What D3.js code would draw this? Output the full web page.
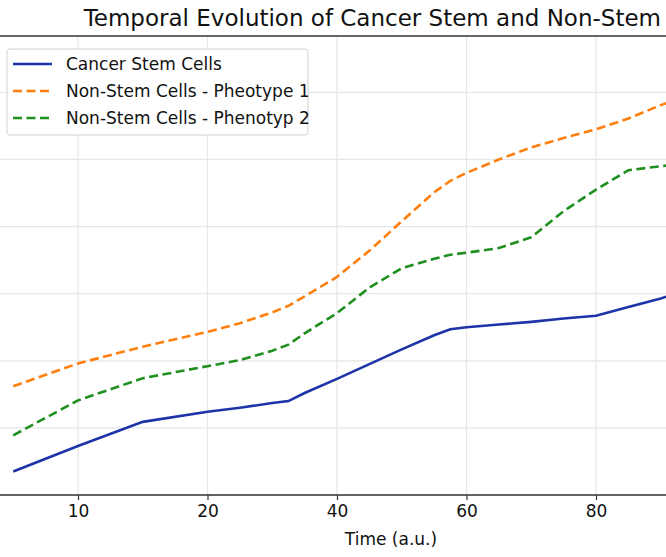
<!DOCTYPE html>
<html>
<head>
<meta charset="utf-8">
<script src="https://cdn.jsdelivr.net/npm/d3@7"></script>
<style>
  body { margin: 0; background: #fff; }
  text { font-family: "DejaVu Sans", sans-serif; }
</style>
</head>
<body>
<script>
// data (y in arbitrary units, no y labels shown)
const times = [5, 10, 15, 20, 25, 30, 32.5, 35, 40, 45, 50, 55, 57.5, 60, 65, 70, 75, 80, 85, 90, 91];
const stemCells = [3.5, 7.3, 10.9, 12.4, 13.0, 13.7, 14.0, 15.2, 17.3, 19.5, 21.7, 23.8, 24.7, 25.0, 25.4, 25.8, 26.3, 26.7, 28.0, 29.3, 29.6];
const nonStem1 = [16.2, 19.6, 22.1, 24.3, 25.6, 27.2, 28.2, 29.6, 32.5, 36.4, 40.8, 45.1, 46.8, 48.0, 50.0, 51.8, 53.2, 54.5, 56.1, 58.1, 58.4];
const nonStem2 = [8.9, 14.1, 17.4, 19.2, 20.1, 21.5, 22.4, 24.1, 27.1, 30.9, 33.8, 35.2, 35.8, 36.1, 36.8, 38.4, 42.3, 45.5, 48.4, 49.0, 49.1];
const xTicks = [10, 20, 40, 60, 80];
const yGrid = [0, 10, 20, 30, 40, 50, 60];
const seriesNames = ["Cancer Stem Cells", "Non-Stem Cells - Pheotype 1", "Non-Stem Cells - Phenotyp 2"];

const width = 666;
const height = 557;
const plotTop = 36, plotBottom = 495;
const tickStart = 78, tickStep = 129.5;

const svg = d3.select('body').append('svg')
  .attr('width', width)
  .attr('height', height);

// tick labels are evenly spaced in the picture, so the scale is piecewise
const x = d3.scaleLinear()
  .domain(xTicks)
  .range(xTicks.map((d, i) => tickStart + i * tickStep));

const y = d3.scaleLinear()
  .domain([0, 68.4])
  .range([plotBottom, plotTop]);

// grid
const grid = svg.append('g').attr('stroke', '#e6e6e6').attr('stroke-width', 1.2);
grid.selectAll('line.v').data(xTicks).join('line')
  .attr('class', 'v')
  .attr('x1', (d) => x(d)).attr('x2', (d) => x(d))
  .attr('y1', plotTop).attr('y2', plotBottom);
grid.selectAll('line.h').data(yGrid).join('line')
  .attr('class', 'h')
  .attr('x1', 0).attr('x2', width)
  .attr('y1', (d) => y(d)).attr('y2', (d) => y(d));

// lines
const series = [
  { name: seriesNames[0], values: stemCells, color: '#1c34a8', dash: null },
  { name: seriesNames[1], values: nonStem1, color: '#ff7f0e', dash: '9,4.5' },
  { name: seriesNames[2], values: nonStem2, color: '#1f8f1f', dash: '9,4.5' }
];

const line = d3.line()
  .x((d) => x(d[0]))
  .y((d) => y(d[1]));

svg.append('g').selectAll('path')
  .data(series)
  .join('path')
  .attr('fill', 'none')
  .attr('stroke', (d) => d.color)
  .attr('stroke-width', 2.6)
  .attr('stroke-dasharray', (d) => d.dash)
  .attr('d', (d) => line(times.map((t, i) => [t, d.values[i]])));

// spines
svg.append('line')
  .attr('x1', 0).attr('x2', width)
  .attr('y1', plotTop).attr('y2', plotTop)
  .attr('stroke', '#333').attr('stroke-width', 1.3);
svg.append('line')
  .attr('x1', 0).attr('x2', width)
  .attr('y1', plotBottom).attr('y2', plotBottom)
  .attr('stroke', '#333').attr('stroke-width', 1.3);

// x axis
const xAxis = svg.append('g')
  .attr('transform', `translate(0,${plotBottom})`)
  .call(d3.axisBottom(x).tickValues(xTicks).tickSize(5).tickPadding(5).tickFormat(d3.format('d')));
xAxis.select('.domain').remove();
xAxis.selectAll('line').attr('stroke', '#333').attr('stroke-width', 1.2);
xAxis.selectAll('text')
  .attr('fill', '#111')
  .style('font-size', '17px')
  .style('font-family', '"DejaVu Sans", sans-serif');

svg.append('text')
  .attr('x', 391)
  .attr('y', 545)
  .attr('text-anchor', 'middle')
  .attr('fill', '#111')
  .style('font-size', '17px')
  .text('Time (a.u.)');

// title (cut off on the right in the original)
svg.append('text')
  .attr('x', 661)
  .attr('y', 26)
  .attr('text-anchor', 'end')
  .attr('fill', '#111')
  .style('font-size', '23px')
  .text('Temporal Evolution of Cancer Stem and Non-Stem');

// legend
const legend = svg.append('g');
legend.append('rect')
  .attr('x', 7).attr('y', 49)
  .attr('width', 301).attr('height', 86)
  .attr('rx', 3)
  .attr('fill', '#fff').attr('fill-opacity', 0.9)
  .attr('stroke', '#d0d0d0');

const item = legend.selectAll('g.item')
  .data(series)
  .join('g')
  .attr('class', 'item')
  .attr('transform', (d, i) => `translate(0,${64 + i * 27})`);
item.append('line')
  .attr('x1', 13).attr('x2', 52)
  .attr('stroke', (d) => d.color)
  .attr('stroke-width', 2.6)
  .attr('stroke-dasharray', (d) => d.dash);
item.append('text')
  .attr('x', 66)
  .attr('dy', '0.35em')
  .attr('fill', '#111')
  .style('font-size', '17px')
  .text((d) => d.name);
</script>
</body>
</html>
